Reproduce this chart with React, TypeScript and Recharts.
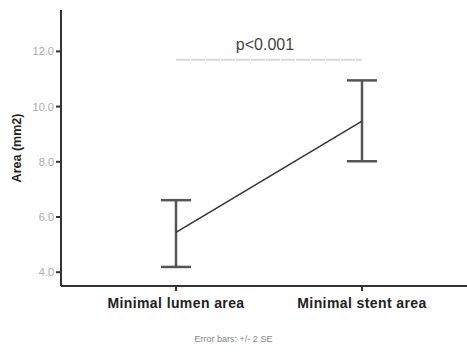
import React from "react";
import {
  LineChart,
  Line,
  XAxis,
  YAxis,
  ErrorBar,
  ReferenceLine,
} from "recharts";

const categories = ["Minimal lumen area", "Minimal stent area"];
const means = [5.44, 9.47];
const lower = [4.19, 8.02];
const upper = [6.61, 10.95];
const yTicks = [4, 6, 8, 10, 12];
const pValueLevel = 11.7;

const data = categories.map((name, i) => ({
  name,
  mean: means[i],
  err: [means[i] - lower[i], upper[i] - means[i]],
}));

const FONT = "Arial, 'Liberation Sans', sans-serif";

const YLabel = ({ viewBox }: any) => {
  const cx = viewBox.x + 17;
  const cy = viewBox.y + viewBox.height / 2;
  return (
    <text
      x={cx}
      y={cy}
      transform={`rotate(-90 ${cx} ${cy})`}
      textAnchor="middle"
      dominantBaseline="central"
      fontFamily={FONT}
      fontWeight="bold"
      fontSize={12.5}
      fill="#222"
    >
      Area (mm2)
    </text>
  );
};

const PLabel = ({ viewBox }: any) => (
  <text
    x={viewBox.x + viewBox.width / 2 - 4}
    y={viewBox.y - 10}
    textAnchor="middle"
    fontFamily={FONT}
    fontSize={16}
    fill="#444"
  >
    p&lt;0.001
  </text>
);

export default function App() {
  return (
    <div style={{ position: "absolute", left: 0, top: 0, width: 467, height: 352, background: "#fff" }}>
      <LineChart
        width={467}
        height={352}
        data={data}
        margin={{ top: 10, right: 0, left: 0, bottom: 0 }}
      >
        <XAxis
          dataKey="name"
          scale="point"
          padding={{ left: 115, right: 105 }}
          stroke="#333"
          strokeWidth={2}
          tickSize={5}
          tick={{ fill: "#222", fontSize: 14, fontWeight: "bold", fontFamily: FONT, letterSpacing: 0.4 }}
          tickMargin={7}
          height={66}
        />
        <YAxis
          domain={[3.5, 13.5]}
          ticks={yTicks}
          tickFormatter={(v: number) => v.toFixed(1)}
          width={61}
          stroke="#333"
          strokeWidth={2}
          tickSize={5}
          tickMargin={2}
          tick={{ fill: "#aaa", fontSize: 11, fontFamily: FONT }}
          label={<YLabel />}
        />
        <ReferenceLine
          segment={[
            { x: categories[0], y: pValueLevel },
            { x: categories[1], y: pValueLevel },
          ]}
          stroke="#d9d9d9"
          strokeWidth={2}
          strokeDasharray="14 1"
          label={<PLabel />}
        />
        <Line
          dataKey="mean"
          stroke="#333"
          strokeWidth={1.5}
          dot={false}
          activeDot={false}
          isAnimationActive={false}
        >
          <ErrorBar dataKey="err" width={15} stroke="#555" strokeWidth={2.5} isAnimationActive={false} />
        </Line>
      </LineChart>
      <div
        style={{
          position: "absolute",
          left: 0,
          width: 467,
          top: 334,
          textAlign: "center",
          fontFamily: FONT,
          fontSize: 9,
          color: "#888",
        }}
      >
        Error bars: +/- 2 SE
      </div>
    </div>
  );
}
